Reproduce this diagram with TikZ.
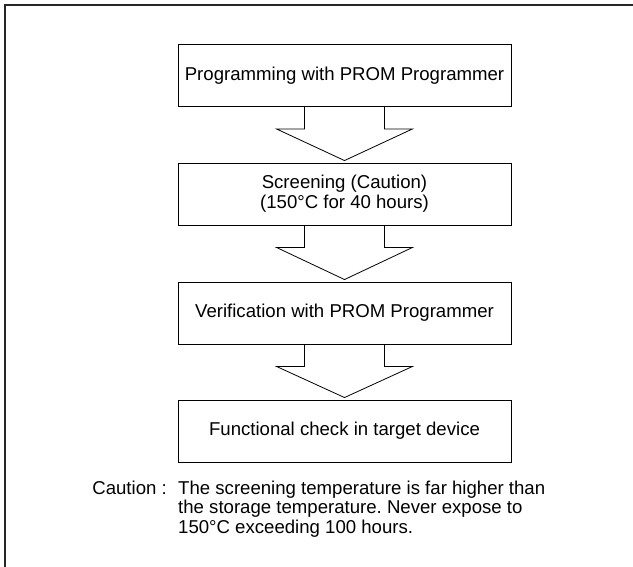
\documentclass[tikz,border=0pt]{standalone}
\usepackage{fontspec}
\setmainfont{Liberation Sans}
\frenchspacing
\usetikzlibrary{calc}
\tikzset{
  stepbox/.style={draw=black, line width=0.9pt, minimum width=333pt, minimum height=62pt,
    inner sep=0pt, align=center, font=\fontsize{18.6}{20}\selectfont},
  flowarr/.style={draw=black, line width=0.8pt, line join=miter},
  frameline/.style={draw=black!85, line width=2pt}
}
\newcommand{\flowarrow}[2]{%
  \draw[flowarr] ([xshift=-40pt]#1.south) -- ([xshift=-40pt,yshift=-22pt]#1.south)
    -- ([xshift=-68pt,yshift=-22pt]#1.south) -- ([yshift=2pt]#2.north)
    -- ([xshift=68pt,yshift=-22pt]#1.south) -- ([xshift=40pt,yshift=-22pt]#1.south)
    -- ([xshift=40pt]#1.south);}
\begin{document}
\begin{tikzpicture}[x=1pt,y=1pt]
\useasboundingbox (0,0) rectangle (633,-567);
\draw[frameline] (4.5,-567) -- (4.5,-5) -- (633,-5);
\node[stepbox] (b1) at (344.5,-75.5) {Programming with PROM Programmer};
\node[stepbox] (b2) at (344.5,-194) {Screening (Caution)\\(150°C for 40 hours)};
\node[stepbox] (b3) at (344.5,-313) {Verification with PROM Programmer};
\node[stepbox] (b4) at (344.5,-431) {Functional check in target device};
\flowarrow{b1}{b2}
\flowarrow{b2}{b3}
\flowarrow{b3}{b4}
\node[anchor=base east, inner sep=0pt, font=\fontsize{18.6}{19.5}\selectfont] (cap) at (167,-494) {Caution :};
\node[anchor=north west, inner sep=0pt, align=left, font=\fontsize{18.6}{19.8}\selectfont] (captext) at (178,-480.5)
  {The screening temperature is far higher than\\the storage temperature. Never expose to\\150°C exceeding 100 hours.};
\end{tikzpicture}
\end{document}
